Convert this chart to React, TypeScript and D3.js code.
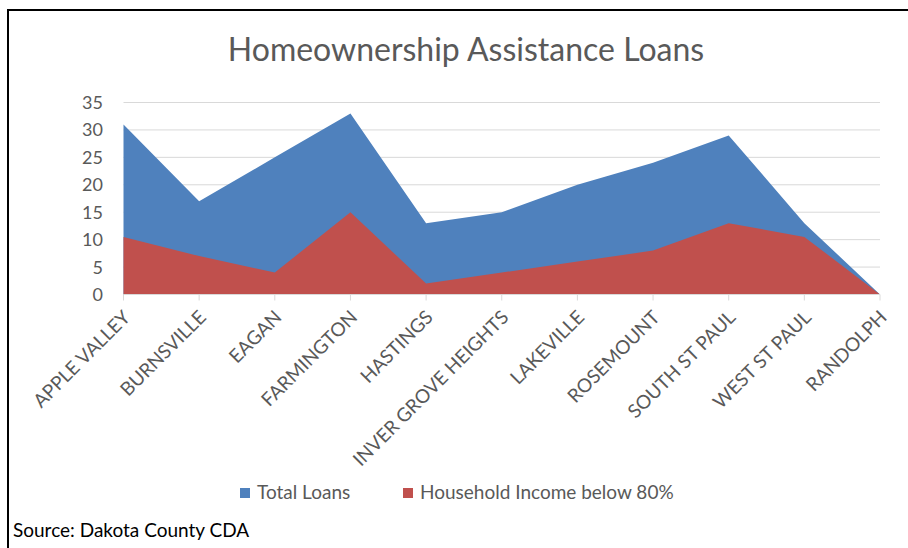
import React from "react";
import * as d3 from "d3";

const categories = [
  "APPLE VALLEY",
  "BURNSVILLE",
  "EAGAN",
  "FARMINGTON",
  "HASTINGS",
  "INVER GROVE HEIGHTS",
  "LAKEVILLE",
  "ROSEMOUNT",
  "SOUTH ST PAUL",
  "WEST ST PAUL",
  "RANDOLPH",
];
const totalLoans = [31, 17, 25, 33, 13, 15, 20, 24, 29, 13, 0];
const incomeBelow80 = [10.5, 7, 4, 15, 2, 4, 6, 8, 13, 10.5, 0];
const yTicks = [0, 5, 10, 15, 20, 25, 30, 35];
const seriesNames = ["Total Loans", "Household Income below 80%"];
const seriesColors = ["#4F81BD", "#C0504D"];

const W = 908;
const H = 548;
const FONT = "Lato, 'Open Sans', sans-serif";

export default function App() {
  const x = d3
    .scalePoint<string>()
    .domain(categories)
    .range([123.5, 880]);
  const y = d3.scaleLinear().domain([0, 35]).range([294.5, 102.5]);

  const area = (vals: number[]) =>
    d3
      .area<number>()
      .x((_, i) => x(categories[i]) as number)
      .y0(y(0))
      .y1((d) => y(d))(vals) as string;

  return (
    <svg
      width={W}
      height={H}
      style={{ position: "absolute", left: 0, top: 0, background: "#fff" }}
      fontFamily={FONT}
    >
      <rect x={0} y={0} width={W} height={H} fill="#fff" />
      <line x1={7} y1={10} x2={W} y2={10} stroke="#000" strokeWidth={2} />
      <line x1={8} y1={10} x2={8} y2={H} stroke="#000" strokeWidth={2} />

      <text x={466} y={61} textAnchor="middle" fontSize={32} fill="#595959">
        Homeownership Assistance Loans
      </text>

      {yTicks.map((t) => (
        <line
          key={t}
          x1={123.5}
          x2={880}
          y1={y(t)}
          y2={y(t)}
          stroke="#d9d9d9"
          strokeWidth={1}
        />
      ))}
      {yTicks.map((t) => (
        <text
          key={"l" + t}
          x={103}
          y={y(t) + 6.5}
          textAnchor="end"
          fontSize={18}
          fill="#595959"
        >
          {t}
        </text>
      ))}

      <path d={area(totalLoans)} fill={seriesColors[0]} />
      <path d={area(incomeBelow80)} fill={seriesColors[1]} />

      <line x1={123.5} x2={880} y1={y(0)} y2={y(0)} stroke="#d9d9d9" />
      {categories.map((c) => (
        <line
          key={"t" + c}
          x1={x(c)}
          x2={x(c)}
          y1={y(0)}
          y2={y(0) + 6}
          stroke="#d9d9d9"
        />
      ))}
      {categories.map((c) => (
        <text
          key={"x" + c}
          transform={`translate(${(x(c) as number) + 8},${y(0) + 24}) rotate(-45)`}
          textAnchor="end"
          fontSize={19}
          fill="#595959"
        >
          {c}
        </text>
      ))}

      <rect x={240} y={488} width={10} height={10} fill={seriesColors[0]} />
      <text x={257} y={499} fontSize={19} fill="#595959">
        {seriesNames[0]}
      </text>
      <rect x={403} y={488} width={10} height={10} fill={seriesColors[1]} />
      <text x={420} y={499} fontSize={19} fill="#595959">
        {seriesNames[1]}
      </text>

      <text x={13} y={537} fontSize={19} fill="#000">
        Source: Dakota County CDA
      </text>
    </svg>
  );
}
